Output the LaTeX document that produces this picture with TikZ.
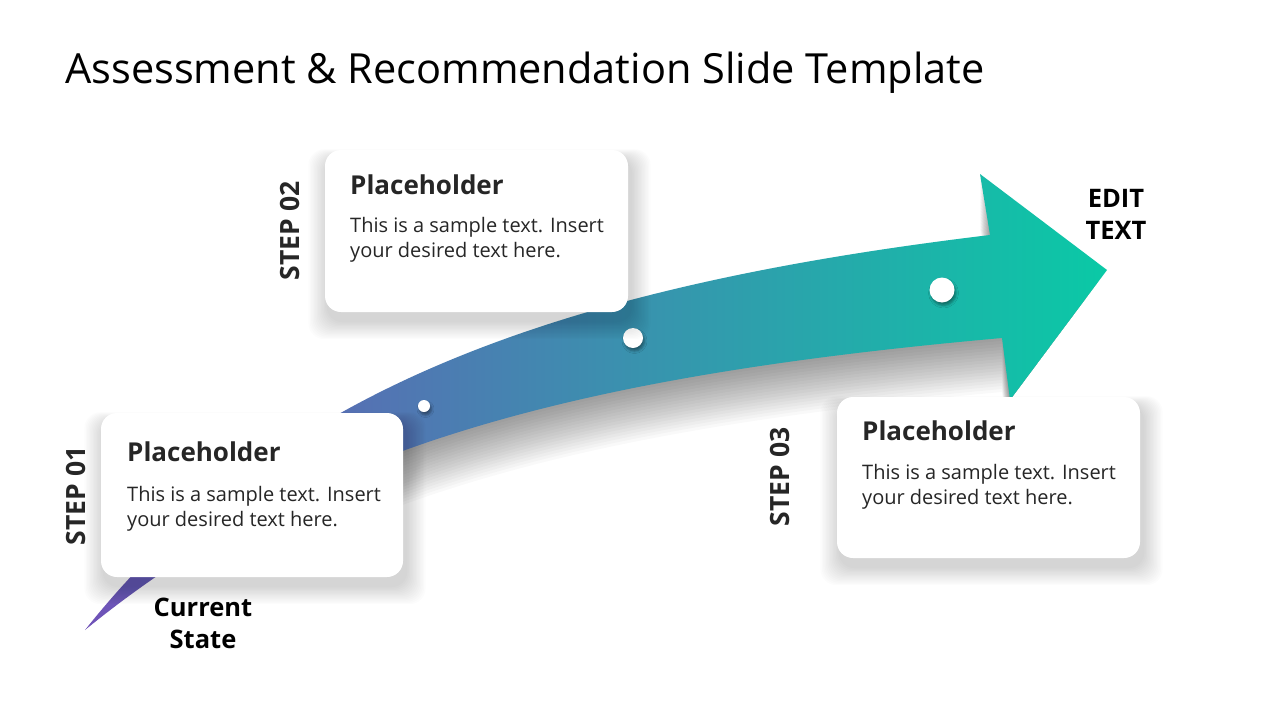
\documentclass[tikz,border=0pt]{standalone}
\usepackage{fontspec}
\setmainfont{Open Sans}
\usetikzlibrary{shadows.blur}
\definecolor{arrL}{RGB}{112,82,184}
\definecolor{arrM}{RGB}{66,134,172}
\definecolor{arrR}{RGB}{10,201,166}
\definecolor{txt}{RGB}{38,38,38}
\newcommand\cardshade[4]{%
  \foreach \i in {1,...,14}{%
    \fill[black, opacity=0.010, rounded corners=16pt]
      ({#1-\i*1.4+3},{#2-\i*0.7+9}) rectangle ({#3+\i*1.4+3},{#4+\i*1.3+9});
  }}
\tikzset{
  card/.style={fill=white, rounded corners=16pt},
  dot/.style={circle, fill=white, inner sep=0pt,
    blur shadow={shadow xshift=1.5pt, shadow yshift=-3pt, shadow blur radius=2.5pt, shadow opacity=40}},
  head/.style={font=\fontsize{26}{30}\selectfont\bfseries, text=txt, anchor=base west, inner sep=0pt},
  body/.style={font=\fontsize{20}{25}\selectfont, text=txt, anchor=north west, inner sep=0pt, align=left},
  steplbl/.style={font=\fontsize{26.5}{30}\selectfont\bfseries, text=txt, rotate=90, inner sep=0pt},
  endlbl/.style={font=\fontsize{25.5}{32}\selectfont\bfseries, text=black, align=center, inner sep=0pt}
}
\begin{document}
\begin{tikzpicture}[x=1pt,y=-1pt]
\useasboundingbox[fill=white] (0,0) rectangle (1280,720);
% title
\node[anchor=base west, inner sep=0pt, font=\fontsize{41.5}{48}\selectfont] (title) at (65,83) {Assessment \& Recommendation Slide Template};
% arrow shadow
\begin{scope}
\clip (330,720) -- (330,150) -- (1107,150) -- (1107,270) -- (1010,400) -- (1010,720) -- cycle;
\foreach \s in {3,6,...,54}{
  \fill[black, opacity=0.022, shift={(0,\s)}]
    (85,630) .. controls (271,396) and (540,289) .. (990,235)
    -- (980,174) -- (1107,270) -- (1010,400) -- (1002,338)
    .. controls (552,378) and (301,454) .. (85,630) -- cycle;
}
\end{scope}
% arrow
\path[left color=arrL, middle color=arrM, right color=arrR]
  (85,630) .. controls (271,396) and (540,289) .. (990,235)
  -- (980,174) -- (1107,270) -- (1010,400) -- (1002,338)
  .. controls (552,378) and (301,454) .. (85,630) -- cycle;
% dots
\node[dot, minimum size=12pt] (d1) at (424,406) {};
\node[dot, minimum size=20pt] (d2) at (633,338) {};
\node[dot, minimum size=25pt] (d3) at (942,290) {};
% cards
\cardshade{101}{413}{403}{577}
\cardshade{325}{150}{628}{312}
\cardshade{837}{397}{1140}{558}
\path[card] (101,413) rectangle (403,577);
\path[card] (325,150) rectangle (628,312);
\path[card] (837,397) rectangle (1140,558);
% card texts
\node[head] (h1) at (127,461) {Placeholder};
\node[body] (b1) at (127,486) {This is a sample text. Insert\\your desired text here.};
\node[head] (h2) at (350,194) {Placeholder};
\node[body] (b2) at (350,217) {This is a sample text. Insert\\your desired text here.};
\node[head] (h3) at (862,440) {Placeholder};
\node[body] (b3) at (862,464) {This is a sample text. Insert\\your desired text here.};
% step labels
\node[steplbl] (s1) at (76,496) {STEP 01};
\node[steplbl] (s2) at (290,231) {STEP 02};
\node[steplbl] (s3) at (780,477) {STEP 03};
% end labels
\node[endlbl] (cur) at (203,623) {Current\\State};
\node[endlbl] (edit) at (1116,214) {EDIT\\TEXT};
\end{tikzpicture}
\end{document}
